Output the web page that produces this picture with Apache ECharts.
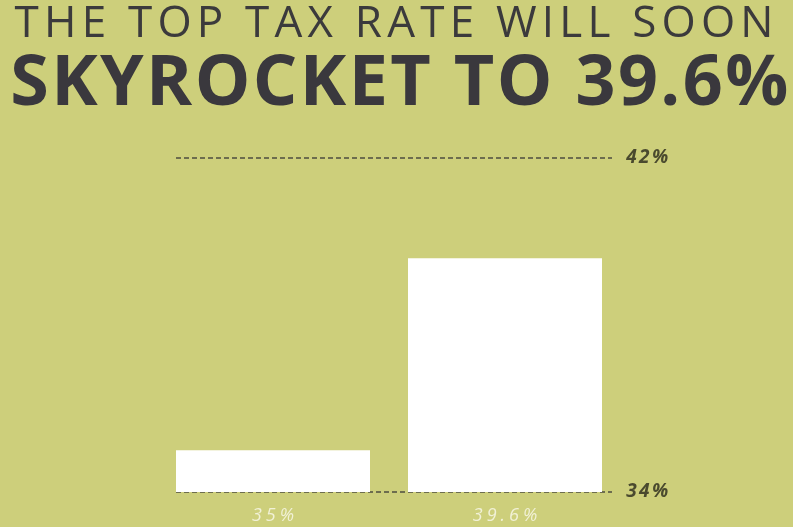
<!DOCTYPE html>
<html>
	<head>
		<meta charset="utf-8">
		<title>Top tax rate</title>
		<script src="https://cdn.jsdelivr.net/npm/echarts@6/dist/echarts.min.js"></script>
		<style type="text/css">
			html, body {
				margin: 0;
				padding: 0;
				background: #cdcf7b;
			}
			#main {
				width: 793px;
				height: 527px;
			}
		</style>
	</head>
	<body>
		<div id="main"></div>
		<script type="text/javascript">
			// 数据
			var categories = ['35%', '39.6%'];
			var rates = [35, 39.6];
			var axisTicks = [34, 42];

			// 用 rich 文本模拟字间距
			function spaced(str, name) {
				return str.split('').map(function(c) {
					return '{' + name + '|' + c + '}';
				}).join('');
			}

			var myChart = echarts.init(document.getElementById('main'));

			var option = {
				backgroundColor: '#cdcf7b',
				animation: false,
				title: [{
					text: spaced('THE TOP TAX RATE WILL SOON', 'a'),
					left: 7,
					top: -3,
					textStyle: {
						rich: {
							a: {
								fontFamily: 'Open Sans',
								fontWeight: 400,
								fontSize: 44,
								color: '#3b3a3c',
								padding: [0, 2.6]
							}
						}
					}
				}, {
					text: spaced('SKYROCKET TO 39.6%', 'b'),
					left: 4,
					top: 45,
					textStyle: {
						rich: {
							b: {
								fontFamily: 'Open Sans',
								fontWeight: 'bold',
								fontSize: 70,
								color: '#3a383d',
								padding: [0, 1.2]
							}
						}
					}
				}],
				grid: [
					// 虚线网格
					{ left: 176, right: 181, top: 158, bottom: 35 },
					// 柱子网格
					{ left: 157, right: 172, top: 158, bottom: 35 }
				],
				xAxis: [{
					gridIndex: 0,
					type: 'category',
					data: categories,
					show: false
				}, {
					gridIndex: 1,
					type: 'category',
					data: categories,
					axisLine: { show: false },
					axisTick: { show: false },
					axisLabel: {
						margin: 15,
						formatter: function(v) { return spaced(v, 'x'); },
						rich: {
							x: {
								color: '#f1f1d6',
								fontFamily: 'Open Sans',
								fontStyle: 'italic',
								fontSize: 18,
								padding: [0, 2]
							}
						}
					}
				}],
				yAxis: [{
					gridIndex: 0,
					type: 'value',
					min: axisTicks[0],
					max: axisTicks[1],
					interval: axisTicks[1] - axisTicks[0],
					position: 'right',
					axisLine: { show: false },
					axisTick: { show: false },
					axisLabel: {
						margin: 13,
						formatter: function(v) { return spaced(v + '%', 'y'); },
						rich: {
							y: {
								color: '#4a4a2e',
								fontFamily: 'Open Sans',
								fontStyle: 'italic',
								fontWeight: 'bold',
								fontSize: 19,
								padding: [0, 1.2]
							}
						}
					},
					splitLine: {
						lineStyle: {
							color: '#4d4d40',
							width: 1.5,
							type: [5, 3]
						}
					}
				}, {
					gridIndex: 1,
					type: 'value',
					min: axisTicks[0],
					max: axisTicks[1],
					show: false
				}],
				series: [{
					type: 'bar',
					xAxisIndex: 1,
					yAxisIndex: 1,
					data: rates,
					barWidth: 194,
					z: 1,
					itemStyle: { color: '#ffffff' }
				}]
			};

			myChart.setOption(option);
		</script>
	</body>
</html>
